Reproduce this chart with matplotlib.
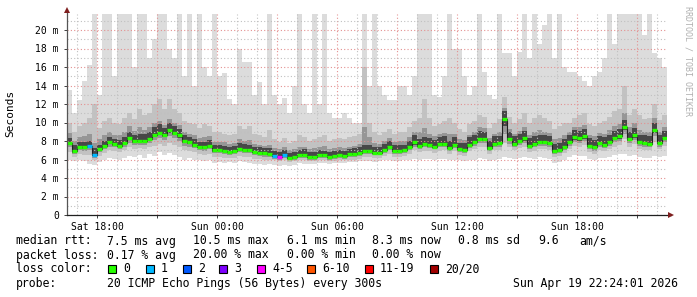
import numpy as np
import pandas as pd
import matplotlib
matplotlib.use('Agg')
import matplotlib.pyplot as plt
import matplotlib.dates as mdates
from matplotlib.ticker import MultipleLocator, FuncFormatter
from matplotlib.patches import Rectangle

# ---------------- data ----------------
start_time = '2026-04-18 16:30'
step = '15min'

median = [7.8, 6.9, 7.4, 7.3, 7.45, 6.5, 7.1, 7.5, 7.85, 7.65,
          7.5, 7.8, 8.35, 8.0, 8.05, 8.05, 8.25, 8.7, 8.9, 8.6,
          9.2, 8.9, 8.6, 8.0, 7.85, 7.6, 7.35, 7.35, 7.5, 7.0,
          7.0, 6.95, 6.85, 6.9, 7.15, 7.05, 7.0, 6.8, 6.75, 6.65,
          6.6, 6.4, 6.3, 6.45, 6.2, 6.25, 6.45, 6.5, 6.3, 6.3,
          6.5, 6.45, 6.3, 6.35, 6.45, 6.4, 6.55, 6.6, 6.7, 6.9,
          6.9, 6.75, 6.75, 7.05, 7.3, 6.95, 6.95, 7.0, 7.3, 7.85,
          7.45, 7.65, 7.55, 7.4, 7.65, 7.7, 7.25, 7.6, 7.1, 7.05,
          7.6, 7.85, 8.25, 8.2, 7.2, 7.7, 7.75, 10.4, 8.2, 7.7,
          8.0, 8.3, 7.5, 7.7, 7.85, 7.85, 7.75, 6.9, 7.0, 7.4,
          7.9, 8.4, 8.3, 8.5, 7.5, 7.3, 7.75, 7.6, 7.9, 8.3,
          8.5, 9.5, 8.2, 8.6, 7.9, 7.8, 7.7, 9.2, 7.8, 8.3]

# lost pings per step (out of 20)
loss = [0] * 120
loss[4] = 1
loss[5] = 1
loss[41] = 1
loss[42] = 4
loss[43] = 1

# smoke envelopes (ms), outermost to innermost
lo1 = [6.0, 5.8, 5.9, 5.8, 5.5, 5.4, 5.7, 6.0, 6.2, 6.1,
       6.0, 6.2, 6.4, 6.3, 6.5, 6.2, 6.6, 6.4, 6.8, 6.5,
       6.7, 6.5, 6.3, 6.0, 6.2, 6.0, 5.9, 5.8, 5.9, 5.6,
       5.7, 5.6, 5.7, 5.6, 5.8, 5.7, 5.6, 5.5, 5.5, 5.4,
       5.5, 5.4, 5.3, 5.4, 5.3, 5.4, 5.6, 5.5, 5.5, 5.5,
       5.6, 5.6, 5.5, 5.6, 5.6, 5.6, 5.7, 5.7, 5.8, 5.8,
       5.8, 5.7, 5.8, 5.9, 5.9, 5.8, 5.8, 5.9, 6.0, 6.1,
       6.0, 6.1, 6.1, 6.0, 6.1, 6.1, 6.0, 6.0, 5.9, 5.8,
       5.9, 6.0, 6.2, 6.1, 5.8, 6.0, 6.1, 6.3, 6.2, 6.1,
       6.2, 6.3, 6.2, 6.1, 6.3, 6.2, 6.1, 5.6, 5.7, 6.0,
       6.3, 6.5, 6.4, 6.4, 6.1, 6.0, 6.2, 6.2, 6.3, 6.5,
       6.6, 6.6, 6.4, 6.5, 6.3, 6.2, 6.2, 6.4, 6.3, 6.4]
hi1 = [13.5, 11.0, 12.4, 14.5, 16.2, 22, 13.0, 22, 22, 15,
       22, 22, 22, 16, 22, 22, 17, 19, 22, 22,
       18, 17, 22, 15, 22, 14, 22, 16, 15, 22,
       15, 15.3, 12.5, 12, 18, 16.5, 16.5, 13, 14.4, 12,
       22, 13, 12, 12.6, 11, 14, 22, 12, 11, 22,
       12, 22, 11, 10.5, 10.5, 11, 10.5, 10, 10, 22,
       14, 22, 14, 13, 12.4, 12.4, 13.9, 14, 13, 15,
       22, 22, 22, 13, 12.8, 15, 22, 18, 18, 15,
       13, 14, 22, 15.5, 13, 12.5, 22, 17.5, 17.5, 15,
       17.6, 22, 17, 22, 18.5, 20.5, 22, 17, 22, 16,
       15.5, 15.5, 15, 14.5, 14, 15, 15.5, 17, 22, 18.5,
       22, 22, 22, 22, 22, 19.5, 22, 17.5, 17, 16]
lo2 = [6.8, 6.3, 6.6, 6.5, 6.5, 5.9, 6.4, 6.7, 7.0, 6.9,
       6.8, 7.0, 7.3, 7.1, 7.2, 7.1, 7.3, 7.5, 7.7, 7.5,
       7.8, 7.6, 7.4, 7.0, 6.9, 6.8, 6.6, 6.5, 6.6, 6.3,
       6.3, 6.2, 6.2, 6.2, 6.4, 6.3, 6.3, 6.1, 6.1, 6.0,
       6.0, 5.9, 5.8, 5.9, 5.7, 5.8, 5.9, 6.0, 5.8, 5.8,
       5.9, 5.9, 5.8, 5.8, 5.9, 5.9, 6.0, 6.0, 6.1, 6.3,
       6.3, 6.2, 6.2, 6.4, 6.6, 6.3, 6.3, 6.4, 6.6, 7.0,
       6.8, 6.9, 6.9, 6.7, 6.9, 7.0, 6.6, 6.9, 6.5, 6.4,
       6.9, 7.1, 7.4, 7.4, 6.6, 7.0, 7.0, 7.8, 7.3, 7.0,
       7.2, 7.4, 6.8, 6.9, 7.1, 7.1, 7.0, 6.3, 6.4, 6.7,
       7.1, 7.5, 7.4, 7.6, 6.8, 6.6, 7.0, 6.9, 7.1, 7.4,
       7.6, 8.2, 7.4, 7.7, 7.1, 7.0, 7.0, 7.9, 7.1, 7.5]
hi2 = [10.0, 9.0, 9.6, 10.0, 10.5, 12.0, 9.4, 10.2, 10.5, 10.0,
       9.8, 10.5, 11.0, 10.4, 11.5, 10.8, 11.0, 12.0, 12.5, 11.5,
       12.5, 11.5, 11.0, 10.2, 10.0, 9.8, 9.4, 9.8, 9.6, 9.0,
       9.0, 8.8, 8.6, 8.8, 9.6, 9.3, 9.6, 8.8, 8.6, 8.4,
       9.2, 8.2, 7.9, 8.3, 7.8, 8.0, 8.6, 8.4, 8.0, 8.2,
       8.4, 8.6, 8.0, 8.2, 8.3, 8.2, 8.4, 8.5, 8.8, 16.0,
       10.0, 9.0, 8.7, 9.0, 9.3, 8.8, 9.0, 9.0, 9.5, 10.2,
       10.5, 12.5, 10.5, 9.6, 9.8, 10.2, 10.5, 10.0, 9.3, 9.0,
       9.8, 10.2, 10.8, 10.6, 9.4, 10.0, 10.4, 12.8, 10.6, 10.0,
       10.4, 11.0, 10.0, 10.5, 10.8, 10.5, 10.2, 9.3, 9.6, 10.0,
       10.0, 10.5, 10.8, 11.0, 9.8, 9.6, 10.0, 10.2, 10.6, 11.2,
       11.5, 14.0, 10.8, 11.5, 10.8, 10.4, 10.5, 12.0, 10.3, 10.8]
lo3 = [7.3, 6.6, 7.0, 6.9, 7.0, 6.2, 6.8, 7.1, 7.4, 7.3,
       7.1, 7.4, 7.8, 7.6, 7.6, 7.6, 7.8, 8.1, 8.3, 8.1,
       8.5, 8.3, 8.0, 7.5, 7.4, 7.2, 7.0, 6.9, 7.1, 6.7,
       6.7, 6.6, 6.5, 6.6, 6.8, 6.7, 6.7, 6.5, 6.4, 6.3,
       6.3, 6.1, 6.0, 6.2, 5.9, 6.0, 6.2, 6.2, 6.0, 6.0,
       6.2, 6.2, 6.0, 6.1, 6.2, 6.1, 6.3, 6.3, 6.4, 6.6,
       6.6, 6.5, 6.5, 6.7, 7.0, 6.6, 6.6, 6.7, 7.0, 7.4,
       7.1, 7.3, 7.2, 7.1, 7.3, 7.3, 6.9, 7.2, 6.8, 6.7,
       7.2, 7.5, 7.8, 7.8, 6.9, 7.3, 7.4, 8.8, 7.7, 7.3,
       7.6, 7.8, 7.1, 7.3, 7.5, 7.5, 7.4, 6.6, 6.7, 7.0,
       7.5, 7.9, 7.8, 8.0, 7.1, 6.9, 7.4, 7.2, 7.5, 7.9,
       8.0, 8.8, 7.8, 8.1, 7.5, 7.4, 7.3, 8.5, 7.4, 7.9]
hi3 = [8.9, 8.0, 8.4, 8.5, 8.8, 7.8, 8.2, 8.6, 9.0, 8.7,
       8.6, 9.0, 9.6, 9.1, 9.5, 9.2, 9.5, 10.0, 10.2, 9.7,
       10.4, 10.0, 9.7, 9.0, 8.8, 8.6, 8.3, 8.4, 8.5, 7.9,
       7.9, 7.9, 7.7, 7.8, 8.2, 8.0, 8.1, 7.7, 7.6, 7.5,
       7.6, 7.2, 7.1, 7.3, 7.0, 7.1, 7.4, 7.4, 7.1, 7.2,
       7.4, 7.5, 7.1, 7.2, 7.3, 7.2, 7.4, 7.5, 7.7, 9.5,
       8.4, 7.8, 7.7, 8.0, 8.3, 7.9, 8.0, 8.0, 8.4, 9.0,
       9.0, 9.4, 8.8, 8.5, 8.8, 8.9, 8.8, 8.8, 8.2, 8.1,
       8.7, 9.0, 9.5, 9.4, 8.3, 8.8, 9.0, 11.6, 9.3, 8.8,
       9.1, 9.5, 8.7, 9.0, 9.2, 9.0, 8.9, 8.2, 8.3, 8.6,
       9.0, 9.5, 9.5, 9.7, 8.7, 8.5, 8.9, 8.8, 9.2, 9.6,
       9.8, 11.0, 9.5, 10.0, 9.2, 9.0, 9.0, 10.5, 9.0, 9.5]
lo4 = [7.6, 6.75, 7.2, 7.1, 7.25, 6.35, 6.95, 7.3, 7.65, 7.45,
       7.3, 7.6, 8.1, 7.8, 7.85, 7.85, 8.05, 8.45, 8.65, 8.4,
       8.9, 8.65, 8.35, 7.8, 7.65, 7.4, 7.2, 7.15, 7.3, 6.85,
       6.85, 6.8, 6.7, 6.75, 7.0, 6.9, 6.85, 6.65, 6.6, 6.5,
       6.45, 6.25, 6.15, 6.3, 6.05, 6.1, 6.3, 6.35, 6.15, 6.15,
       6.35, 6.3, 6.15, 6.2, 6.3, 6.25, 6.4, 6.45, 6.55, 6.75,
       6.75, 6.6, 6.6, 6.9, 7.15, 6.8, 6.8, 6.85, 7.15, 7.6,
       7.3, 7.5, 7.4, 7.25, 7.5, 7.5, 7.1, 7.4, 6.95, 6.9,
       7.4, 7.65, 8.05, 8.0, 7.05, 7.5, 7.55, 9.6, 7.95, 7.5,
       7.8, 8.05, 7.3, 7.5, 7.65, 7.65, 7.55, 6.75, 6.85, 7.2,
       7.7, 8.15, 8.05, 8.25, 7.3, 7.1, 7.55, 7.4, 7.7, 8.1,
       8.25, 9.2, 8.0, 8.35, 7.7, 7.6, 7.5, 8.9, 7.6, 8.1]
hi4 = [8.3, 7.6, 7.9, 7.9, 8.0, 7.2, 7.6, 8.0, 8.4, 8.2,
       8.1, 8.4, 9.0, 8.7, 8.8, 8.8, 9.0, 9.5, 9.8, 9.4,
       10.0, 9.6, 9.3, 8.6, 8.4, 8.2, 7.9, 7.9, 8.1, 7.6,
       7.6, 7.5, 7.4, 7.5, 7.8, 7.7, 7.6, 7.3, 7.3, 7.2,
       7.2, 6.9, 6.8, 7.0, 6.7, 6.8, 7.0, 7.1, 6.8, 6.8,
       7.0, 6.9, 6.8, 6.9, 7.0, 6.9, 7.1, 7.2, 7.3, 7.6,
       7.6, 7.4, 7.4, 7.7, 8.0, 7.6, 7.6, 7.6, 8.0, 8.6,
       8.2, 8.4, 8.3, 8.1, 8.4, 8.5, 8.0, 8.4, 7.8, 7.8,
       8.4, 8.7, 9.1, 9.0, 8.0, 8.5, 8.5, 11.2, 9.0, 8.5,
       8.8, 9.1, 8.3, 8.5, 8.7, 8.7, 8.5, 7.7, 7.8, 8.2,
       8.7, 9.2, 9.1, 9.3, 8.3, 8.1, 8.5, 8.4, 8.7, 9.1,
       9.3, 10.3, 9.0, 9.4, 8.7, 8.6, 8.5, 9.9, 8.6, 9.1]

loss_levels = [(0, 0, '0', '#26ff00'), (1, 1, '1', '#00b8ff'), (2, 2, '2', '#0059ff'),
               (3, 3, '3', '#7e00ff'), (4, 5, '4-5', '#ff00ff'), (6, 10, '6-10', '#ff5500'),
               (11, 19, '11-19', '#ff0000'), (20, 20, '20/20', '#a10000')]

legend_rows = [
    [(16, 'median rtt:'), (107, '7.5 ms avg'), (193, '10.5 ms max'), (287, '6.1 ms min'),
     (372, '8.3 ms now'), (458, '0.8 ms sd'), (538, '9.6'), (579, 'am/s')],
    [(16, 'packet loss:'), (107, '0.17 % avg'), (193, '20.00 % max'), (287, '0.00 % min'),
     (372, '0.00 % now')],
]
probe_text = '20 ICMP Echo Pings (56 Bytes) every 300s'
stamp_text = 'Sun Apr 19 22:24:01 2026'

# ---------------- figure ----------------
W, H = 697, 297
plt.rcParams['font.family'] = ['DejaVu Sans Mono']
fig = plt.figure(figsize=(W / 100, H / 100), dpi=100)
fig.patch.set_facecolor('white')

ax_l, ax_r, ax_t, ax_b = 67, 667, 14, 215
ax = fig.add_axes([ax_l / W, (H - ax_b) / H, (ax_r - ax_l) / W, (ax_b - ax_t) / H])
ax.set_facecolor('white')

n = len(median)
edges = pd.date_range(start_time, periods=n + 1, freq=step)
x = mdates.date2num(edges.to_pydatetime())

def ext(a):
    a = np.asarray(a, dtype=float)
    return np.append(a, a[-1])

bands = [(lo1, hi1, '#dcdcdc'), (lo2, hi2, '#c2c2c2'), (lo3, hi3, '#969696'), (lo4, hi4, '#474747')]
for lo, hi, c in bands:
    ax.fill_between(x, ext(lo), ext(hi), step='post', color=c, lw=0, zorder=1)

ax.plot(x, ext(median), drawstyle='steps-post', color='#202020', lw=0.8, zorder=3)

def loss_color(l):
    for a, b, _, c in loss_levels:
        if a <= l <= b:
            return c
    return '#26ff00'

seg_colors = [loss_color(l) for l in loss]
ax.hlines(median, x[:-1], x[1:], colors=seg_colors, lw=2.4, capstyle='butt', zorder=4)

ymax = (ax_b - ax_t) / 9.25
ax.set_xlim(x[0], x[-1])
ax.set_ylim(0, ymax)

# grid
ax.xaxis.set_major_locator(mdates.HourLocator(byhour=range(0, 24, 3)))
ax.xaxis.set_minor_locator(mdates.HourLocator())
def xfmt(v, pos):
    d = mdates.num2date(v)
    return d.strftime('%a %H:%M') if d.hour % 6 == 0 else ''
ax.xaxis.set_major_formatter(FuncFormatter(xfmt))
ax.yaxis.set_major_locator(MultipleLocator(2))
ax.yaxis.set_minor_locator(MultipleLocator(1))
ax.yaxis.set_major_formatter(FuncFormatter(lambda v, p: '0' if v == 0 else '%d m' % v))

ax.set_axisbelow(False)
ax.grid(which='minor', color='#c0c0c0', linestyle=(0, (1, 2)), lw=0.8)
ax.grid(which='major', color='#e49090', linestyle=(0, (1, 2)), lw=0.8)

ax.tick_params(axis='both', which='major', labelsize=7, length=2.2, width=0.7,
               color='#404040', direction='out')
ax.tick_params(axis='both', which='minor', length=0)
ax.tick_params(axis='y', pad=3.6)
ax.tick_params(axis='x', pad=2.5)
for s in ax.spines.values():
    s.set_visible(False)

# axis lines with arrows
ax.plot([0, 0], [0, 1.012], transform=ax.transAxes, color='#555555', lw=0.9, clip_on=False, zorder=5)
ax.plot([0, 1.006], [0, 0], transform=ax.transAxes, color='#202020', lw=0.9, clip_on=False, zorder=5)
ax.plot([0], [1.018], transform=ax.transAxes, marker='^', ms=4.2, color='#7f1f1f', clip_on=False, zorder=6, mew=0)
ax.plot([1.007], [0], transform=ax.transAxes, marker='>', ms=4.2, color='#7f1f1f', clip_on=False, zorder=6, mew=0)

# labels
fig.text(10 / W, 1 - 113 / H, 'Seconds', rotation=90, ha='center', va='center', fontsize=8)
fig.text(688 / W, 1 - 6 / H, 'RRDTOOL / TOBI OETIKER', rotation=270, ha='center', va='top',
         fontsize=6, color='#b0b0b0')

fs = 8.3
row_y = [241, 255, 269, 283]
for r, items in enumerate(legend_rows):
    for px, t in items:
        fig.text(px / W, 1 - row_y[r] / H, t, ha='left', va='center', fontsize=fs)

fig.text(16 / W, 1 - row_y[2] / H, 'loss color:', ha='left', va='center', fontsize=fs)
box_x = [108, 146, 183, 219, 257, 307, 365, 430]
for bx, (_, _, lab, c) in zip(box_x, loss_levels):
    fig.patches.append(Rectangle((bx / W, 1 - 273 / H), 8 / W, 8 / H, transform=fig.transFigure,
                                 facecolor=c, edgecolor='black', lw=0.8))
    fig.text((bx + 15) / W, 1 - row_y[2] / H, lab, ha='left', va='center', fontsize=fs)

fig.text(16 / W, 1 - row_y[3] / H, 'probe:', ha='left', va='center', fontsize=fs)
fig.text(107 / W, 1 - row_y[3] / H, probe_text, ha='left', va='center', fontsize=fs)
fig.text(513 / W, 1 - row_y[3] / H, stamp_text, ha='left', va='center', fontsize=fs)

fig.savefig('out.png', dpi=100, facecolor='white')
